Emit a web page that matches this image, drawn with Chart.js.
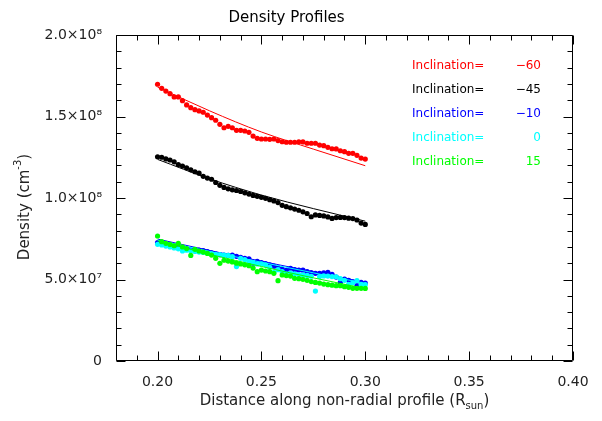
<!DOCTYPE html>
<html>
<head>
<meta charset="utf-8">
<script src="https://cdn.jsdelivr.net/npm/chart.js@4.4.1/dist/chart.umd.min.js"></script>
<style>
  html, body { margin: 0; padding: 0; background: #fff; }
</style>
</head>
<body>
<canvas id="densityChart" width="602" height="421"></canvas>
<script>
// distance along profile (R_sun)
let distance = [0.200, 0.202, 0.204, 0.206, 0.208, 0.210, 0.212, 0.214, 0.216, 0.218,
  0.220, 0.222, 0.224, 0.226, 0.228, 0.230, 0.232, 0.234, 0.236, 0.238,
  0.240, 0.242, 0.244, 0.246, 0.248, 0.250, 0.252, 0.254, 0.256, 0.258,
  0.260, 0.262, 0.264, 0.266, 0.268, 0.270, 0.272, 0.274, 0.276, 0.278,
  0.280, 0.282, 0.284, 0.286, 0.288, 0.290, 0.292, 0.294, 0.296, 0.298, 0.300];

// densities in units of 1e8 cm^-3
let densRed = [1.698, 1.673, 1.656, 1.640, 1.620, 1.620, 1.597, 1.571, 1.554, 1.542,
  1.534, 1.526, 1.509, 1.493, 1.477, 1.452, 1.431, 1.440, 1.431, 1.415,
  1.415, 1.411, 1.403, 1.380, 1.366, 1.362, 1.362, 1.360, 1.362, 1.352,
  1.345, 1.342, 1.342, 1.342, 1.345, 1.344, 1.336, 1.336, 1.336, 1.325,
  1.321, 1.311, 1.302, 1.301, 1.290, 1.284, 1.274, 1.274, 1.262, 1.245, 1.239];
let densBlack = [1.253, 1.250, 1.240, 1.233, 1.222, 1.205, 1.196, 1.185, 1.173, 1.161,
  1.152, 1.133, 1.122, 1.115, 1.095, 1.078, 1.065, 1.056, 1.050, 1.046,
  1.040, 1.032, 1.024, 1.016, 1.010, 1.004, 0.998, 0.990, 0.982, 0.972,
  0.955, 0.947, 0.940, 0.932, 0.925, 0.915, 0.905, 0.885, 0.896, 0.893,
  0.890, 0.884, 0.875, 0.880, 0.881, 0.880, 0.876, 0.874, 0.865, 0.846, 0.838];
let densBlue = [0.726, 0.722, 0.716, 0.712, 0.706, 0.701, 0.696, 0.690, 0.685, 0.683,
  0.681, 0.677, 0.671, 0.664, 0.657, 0.652, 0.650, 0.648, 0.650, 0.642,
  0.636, 0.630, 0.626, 0.600, 0.612, 0.604, 0.598, 0.590, 0.582, 0.575,
  0.566, 0.556, 0.569, 0.560, 0.558, 0.557, 0.548, 0.542, 0.538, 0.538,
  0.541, 0.544, 0.532, 0.515, 0.482, 0.503, 0.495, 0.485, 0.462, 0.483, 0.478];
let densCyan = [0.716, 0.712, 0.705, 0.700, 0.694, 0.688, 0.675, 0.680, 0.676, 0.672,
  0.668, 0.666, 0.662, 0.657, 0.655, 0.652, 0.650, 0.648, 0.640, 0.579,
  0.630, 0.622, 0.610, 0.603, 0.595, 0.596, 0.590, 0.575, 0.544, 0.560,
  0.548, 0.534, 0.540, 0.535, 0.530, 0.528, 0.525, 0.520, 0.429, 0.518,
  0.522, 0.521, 0.518, 0.517, 0.505, 0.495, 0.471, 0.480, 0.493, 0.470, 0.468];
let densGreen = [0.767, 0.732, 0.722, 0.715, 0.707, 0.722, 0.700, 0.690, 0.648, 0.685,
  0.675, 0.668, 0.660, 0.650, 0.630, 0.599, 0.618, 0.613, 0.608, 0.600,
  0.595, 0.590, 0.585, 0.570, 0.548, 0.558, 0.552, 0.548, 0.538, 0.493,
  0.528, 0.524, 0.521, 0.507, 0.505, 0.501, 0.495, 0.487, 0.482, 0.478,
  0.472, 0.468, 0.465, 0.462, 0.462, 0.456, 0.452, 0.446, 0.446, 0.446, 0.445];

// fitted curves, read at a few distances
let fitDistance = [0.200, 0.225, 0.250, 0.275, 0.300];
let fitRed = [1.680, 1.535, 1.405, 1.300, 1.198];
let fitBlack = [1.237, 1.118, 1.018, 0.935, 0.858];
let fitBlue = [0.748, 0.678, 0.612, 0.547, 0.482];
let fitCyan = [0.742, 0.672, 0.606, 0.541, 0.476];
let fitGreen = [0.738, 0.655, 0.580, 0.510, 0.445];

let inclinations = ['\u221260', '\u221245', '\u221210', '0', '15'];
let seriesColors = ['#ff0000', '#000000', '#0000ff', '#00ffff', '#00ff00'];

let xTicks = [0.20, 0.25, 0.30, 0.35, 0.40];
let yTicks = [0, 0.5, 1.0, 1.5, 2.0];
let yTickLabels = ['0', '5.0\u00d710\u2077', '1.0\u00d710\u2078', '1.5\u00d710\u2078', '2.0\u00d710\u2078'];

let pointSets = [densRed, densBlack, densBlue, densCyan, densGreen];
let fitSets = [fitRed, fitBlack, fitBlue, fitCyan, fitGreen];

let datasets = [];
pointSets.forEach((vals, k) => {
  datasets.push({
    data: distance.map((d, i) => ({ x: d, y: vals[i] })),
    showLine: false,
    pointRadius: 2.6,
    pointBorderWidth: 0,
    pointBackgroundColor: seriesColors[k],
    order: 20 - k * 2
  });
  datasets.push({
    data: fitDistance.map((d, i) => ({ x: d, y: fitSets[k][i] })),
    showLine: true,
    borderColor: seriesColors[k],
    borderWidth: 1,
    pointRadius: 0,
    cubicInterpolationMode: 'monotone',
    order: 19 - k * 2
  });
});

// IDL style box, ticks, axis titles and inclination labels
function drawRich(ctx, parts, x, y, align) {
  let total = 0;
  parts.forEach(p => { ctx.font = p.font; total += ctx.measureText(p.t).width; });
  let cx = align === 'center' ? x - total / 2 : x;
  parts.forEach(p => {
    ctx.font = p.font;
    ctx.fillText(p.t, cx, y + (p.dy || 0));
    cx += ctx.measureText(p.t).width;
  });
}

const idlFrame = {
  id: 'idlFrame',
  afterDatasetsDraw(chart) {
    const ctx = chart.ctx;
    const a = chart.chartArea;
    const xs = chart.scales.x, ys = chart.scales.y;
    ctx.save();
    ctx.strokeStyle = '#000';
    ctx.lineWidth = 1;
    const L = Math.round(a.left) + 0.5, R = Math.round(a.right) - 0.5;
    const T = Math.round(a.top) + 0.5, B = Math.round(a.bottom) - 0.5;
    ctx.beginPath();
    ctx.rect(L, T, R - L, B - T);
    // x ticks every 0.01, major every 0.05
    for (let n = 18; n <= 40; n++) {
      const px = Math.round(xs.getPixelForValue(n / 100)) + 0.5;
      const len = n % 5 === 0 ? 9 : 5;
      ctx.moveTo(px, B); ctx.lineTo(px, B - len);
      ctx.moveTo(px, T); ctx.lineTo(px, T + len);
    }
    // y ticks every 0.1e8, major every 0.5e8
    for (let n = 0; n <= 20; n++) {
      const py = Math.round(ys.getPixelForValue(n / 10)) + 0.5;
      const len = n % 5 === 0 ? 9 : 5;
      ctx.moveTo(L, py); ctx.lineTo(L + len, py);
      ctx.moveTo(R, py); ctx.lineTo(R - len, py);
    }
    ctx.stroke();

    ctx.fillStyle = '#222';
    ctx.textBaseline = 'alphabetic';
    ctx.textAlign = 'left';
    const f = '15px "DejaVu Sans"', fs = '10px "DejaVu Sans"';
    drawRich(ctx, [
      { t: 'Distance along non-radial profile (R', font: f },
      { t: 'sun', font: fs, dy: 4 },
      { t: ')', font: f }
    ], (a.left + a.right) / 2, 405, 'center');

    ctx.save();
    ctx.translate(29, 207);
    ctx.rotate(-Math.PI / 2);
    drawRich(ctx, [
      { t: 'Density (cm', font: f },
      { t: '-3', font: fs, dy: -8 },
      { t: ')', font: f }
    ], 0, 0, 'center');
    ctx.restore();

    ctx.font = '12px "DejaVu Sans"';
    ctx.textBaseline = 'middle';
    inclinations.forEach((v, k) => {
      const y = 66 + k * 24;
      ctx.fillStyle = seriesColors[k];
      ctx.textAlign = 'left';
      ctx.fillText('Inclination=', 412, y);
      ctx.textAlign = 'right';
      ctx.fillText(v, 541, y);
    });
    ctx.restore();
  }
};

const tickFont = { family: 'DejaVu Sans', size: 14 };

let densityChart = new Chart(document.getElementById('densityChart').getContext('2d'), {
  type: 'scatter',
  data: { datasets: datasets },
  plugins: [idlFrame],
  options: {
    responsive: false,
    animation: false,
    layout: { padding: { top: 0, right: 29, bottom: 0, left: 0 } },
    plugins: {
      legend: { display: false },
      tooltip: { enabled: false },
      title: {
        display: true,
        text: 'Density Profiles',
        color: '#000',
        font: { family: 'DejaVu Sans', size: 15, weight: 'normal' },
        padding: { top: 9, bottom: 8 }
      }
    },
    scales: {
      x: {
        type: 'linear',
        min: 0.18,
        max: 0.40,
        afterBuildTicks: s => { s.ticks = xTicks.map(v => ({ value: v })); },
        afterFit: s => { s.height = 60; },
        ticks: {
          callback: v => v.toFixed(2),
          color: '#222',
          font: tickFont,
          padding: 5,
          maxRotation: 0,
          autoSkip: false
        },
        grid: { display: false },
        border: { display: false }
      },
      y: {
        min: 0,
        max: 2,
        afterBuildTicks: s => { s.ticks = yTicks.map(v => ({ value: v })); },
        afterFit: s => { s.width = 116; },
        ticks: {
          callback: (v, i) => yTickLabels[i],
          color: '#222',
          font: tickFont,
          padding: 6,
          autoSkip: false
        },
        grid: { display: false },
        border: { display: false }
      }
    }
  }
});
</script>
</body>
</html>
